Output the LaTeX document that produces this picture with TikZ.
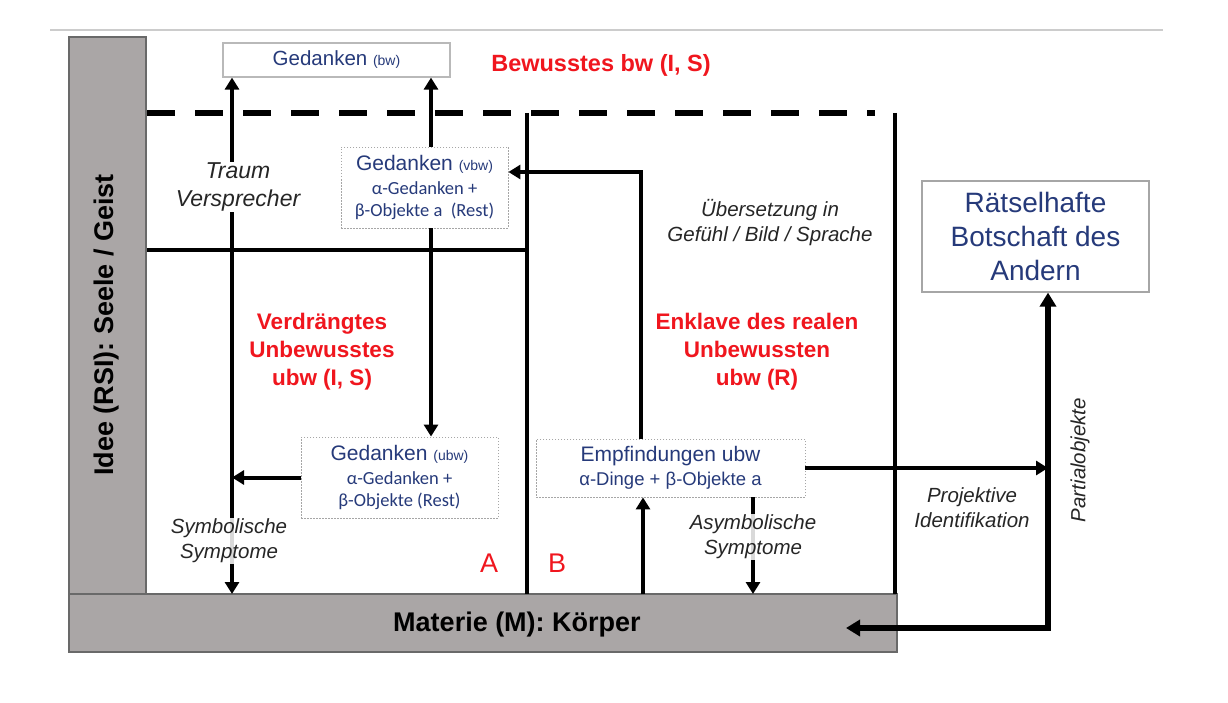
\documentclass[tikz,border=0pt]{standalone}
\usepackage{fontspec}
\setmainfont{Liberation Sans}
\newfontfamily\calfont{Carlito}
\usetikzlibrary{arrows.meta,calc}
\definecolor{navy}{RGB}{38,58,122}
\definecolor{redt}{RGB}{240,22,30}
\definecolor{barfill}{RGB}{170,166,166}
\definecolor{barline}{RGB}{105,105,105}
\newcommand{\fs}[2]{\fontsize{#1}{#2}\selectfont}
\begin{document}
\begin{tikzpicture}[x=1pt,y=-1pt,
  bar/.style={draw=barline,line width=1.2pt,fill=barfill,inner sep=0pt},
  solidbox/.style={draw=gray!55,line width=1.2pt,fill=white,inner sep=0pt,align=center,text=navy},
  dotbox/.style={draw=gray!70,dash pattern=on 1.5pt off 1.5pt,line width=0.9pt,fill=white,inner sep=0pt,align=center,text=navy},
  wall/.style={line width=3.4pt},
  arr/.style={line width=4pt,-{Triangle[length=12pt,width=14pt]}},
  arrb/.style={line width=4pt,{Triangle[length=12pt,width=14pt]}-{Triangle[length=12pt,width=14pt]}},
  thick arr/.style={line width=5.2pt,{Triangle[length=14pt,width=16pt]}-{Triangle[length=14pt,width=16pt]}},
  redlbl/.style={text=redt,font=\bfseries\fs{22.5}{28},align=center},
  itl/.style={font=\itshape\fs{20.5}{25},align=center,text=black!85},
]
\useasboundingbox (0,0) rectangle (1228,703);
\fill[white] (0,0) rectangle (1228,703);
% top rule
\draw[gray!40,line width=2pt] (50,30) -- (1163,30);

% grey bars
\node[bar,minimum width=77pt,minimum height=558pt] (lbar) at (107.5,316) {};
\node[bar,minimum width=828pt,minimum height=58pt] (bbar) at (483,623) {};
\node[rotate=90,font=\bfseries\fs{27}{30}] (idee) at (107,325) {Idee (RSI): Seele / Geist};
\node[font=\bfseries\fs{27}{30}] (materie) at (517,625) {Materie (M): Körper};

% walls
\draw[line width=6.5pt,dash pattern=on 28pt off 20pt] (147,113) -- (875,113);
\draw[wall] (527,113) -- (527,594);
\draw[wall] (895,113) -- (895,594);
\draw[wall] (147,250) -- (527,250);

% boxes
\node[solidbox,minimum width=227pt,minimum height=34pt,font=\fs{20.5}{24}] (bw) at (336.5,60)
  {Gedanken {\fs{14}{16}(bw)}};
\node[dotbox,minimum width=167pt,minimum height=81pt,font=\fs{21}{25}] (vbw) at (424.5,187.5)
  {Gedanken {\fs{14}{16}(vbw)}\\[-1pt]
   {\calfont\fs{18.5}{21}α-Gedanken +}\\[-3pt]
   {\calfont\fs{18.5}{21}β-Objekte a~~(Rest)}};
\node[dotbox,minimum width=197pt,minimum height=81pt,font=\fs{21}{25}] (ubw) at (399.5,477.5)
  {Gedanken {\fs{14}{16}(ubw)}\\[-1pt]
   {\calfont\fs{18.5}{21}α-Gedanken +}\\[-3pt]
   {\calfont\fs{18.5}{21}β-Objekte (Rest)}};
\node[dotbox,minimum width=269pt,minimum height=58pt,font=\fs{21}{24}] (emp) at (670.5,468)
  {Empfindungen ubw\\
   {\fs{18.5}{22}α-Dinge + β-Objekte a}};
\node[solidbox,draw=gray!70,minimum width=227pt,minimum height=111pt,font=\fs{28}{34}] (rb) at (1035.5,236.5)
  {Rätselhafte\\Botschaft des\\Andern};

% column coordinates
\coordinate (sym) at (232,594);
\coordinate (c1) at (431,0);
\coordinate (c2) at (641,172);
\coordinate (c3) at (643,594);
\coordinate (asy) at (753,594);
\coordinate (pv) at (1048,628);
\coordinate (kb) at (846,628);

% arrows
\draw[arrb] (bw.south -| sym) -- (sym);
\node[itl,fill=white,inner sep=1pt,font=\itshape\fs{23}{28}] (traum) at (238,187) {Traum\\Versprecher};
\node[itl,fill=white,fill opacity=0.85,text opacity=1,inner sep=1pt] (symb) at (229,541) {Symbolische\\Symptome};
\draw[arr] (ubw.west) -- (ubw.west -| sym);
\draw[arr] (vbw.north -| c1) -- (bw.south -| c1);
\draw[arr] (vbw.south -| c1) -- (ubw.north -| c1);
\draw[arr] (emp.north -| c2) -- (c2) -- (c2 -| vbw.east);
\draw[arr] (c3) -- (emp.south -| c3);
\draw[arr] (emp.south -| asy) -- (asy);
\node[itl,fill=white,fill opacity=0.85,text opacity=1,inner sep=1pt] (asymb) at (753,537) {Asymbolische\\Symptome};
\draw[arr] (emp.east) -- (emp.east -| pv);
\draw[thick arr] (kb) -- (pv) -- (rb.south -| pv);

% labels
\node[font=\bfseries\fs{23.5}{28},text=redt] (bwl) at (601,65) {Bewusstes bw (I, S)};
\node[redlbl] (verd) at (322,352) {Verdrängtes\\Unbewusstes\\ubw (I, S)};
\node[redlbl] (enkl) at (757,352) {Enklave des realen\\Unbewussten\\ubw (R)};
\node[itl] (ueb) at (770,223) {Übersetzung in\\Gefühl / Bild / Sprache};
\node[itl] (proj) at (972,508) {Projektive\\Identifikation};
\node[itl,rotate=90] (part) at (1080,460) {Partialobjekte};
\node[text=redt,font=\fs{27}{30}] (A) at (489,563) {A};
\node[text=redt,font=\fs{27}{30}] (B) at (557,563) {B};
\end{tikzpicture}
\end{document}
